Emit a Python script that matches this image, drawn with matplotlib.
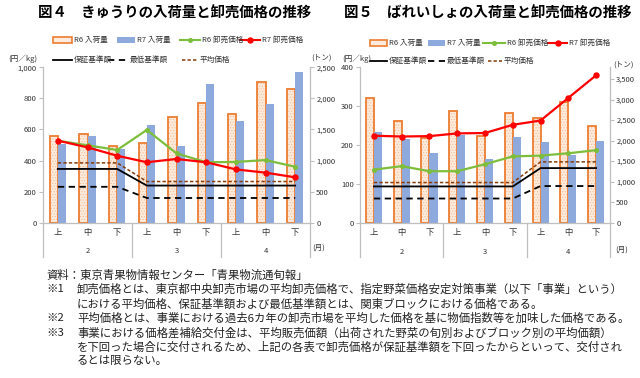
import matplotlib
matplotlib.use('Agg')
import matplotlib.pyplot as plt
import matplotlib.transforms as mtransforms
from matplotlib.lines import Line2D
from matplotlib.patches import Rectangle
import numpy as np

plt.rcParams['font.family'] = ['Noto Sans CJK JP', 'DejaVu Sans']
plt.rcParams['hatch.linewidth'] = 0.5

# ---------------- data ----------------
months = ['2', '3', '4']
periods = ['上', '中', '下']

# Fig.4 cucumber
cu_r6_vol = [1395, 1430, 1235, 1280, 1705, 1930, 1745, 2265, 2150]
cu_r7_vol = [1265, 1400, 1180, 1565, 1235, 2235, 1635, 1915, 2430]
cu_r6_price = [528, 498, 468, 597, 446, 389, 391, 403, 360]
cu_r7_price = [528, 485, 431, 389, 410, 389, 343, 322, 292]
cu_guar = [346, 346, 346, 239, 239, 239, 239, 239, 239]
cu_min = [231, 231, 231, 159, 159, 159, 159, 159, 159]
cu_avg = [385, 385, 385, 265, 265, 265, 265, 265, 265]

# Fig.5 potato
po_r6_vol = [3040, 2477, 2056, 2728, 2119, 2665, 2543, 2930, 2360]
po_r7_vol = [2209, 2039, 1705, 2129, 1559, 2080, 1958, 1649, 1980]
po_r6_price = [136, 145, 132, 132, 150, 170, 172, 178, 186]
po_r7_price = [223, 221, 222, 229, 230, 251, 262, 320, 378]
po_guar = [93, 93, 93, 93, 93, 93, 140, 140, 140]
po_min = [62, 62, 62, 62, 62, 62, 94, 94, 94]
po_avg = [103, 103, 103, 103, 103, 103, 156, 156, 156]

title4 = '図４　きゅうりの入荷量と卸売価格の推移'
title5 = '図５　ばれいしょの入荷量と卸売価格の推移'
legend_labels = ['R6 入荷量', 'R7 入荷量', 'R6 卸売価格', 'R7 卸売価格',
                 '保証基準額', '最低基準額', '平均価格']
notes = [
    ('資料：東京青果物情報センター「青果物流通旬報」', None),
    ('※1', '卸売価格とは、東京都中央卸売市場の平均卸売価格で、指定野菜価格安定対策事業（以下「事業」という）'),
    (None, 'における平均価格、保証基準額および最低基準額とは、関東ブロックにおける価格である。'),
    ('※2', '平均価格とは、事業における過去6カ年の卸売市場を平均した価格を基に物価指数等を加味した価格である。'),
    ('※3', '事業における価格差補給交付金は、平均販売価額（出荷された野菜の旬別およびブロック別の平均価額）'),
    (None, 'を下回った場合に交付されるため、上記の各表で卸売価格が保証基準額を下回ったからといって、交付され'),
    (None, 'るとは限らない。'),
]

# ---------------- style ----------------
W, H = 640, 378
ORANGE = '#ED7D31'
PEACH = '#FDEBDD'
DOTS = '#F6BE98'
BLUE = '#8EA9DB'
GREEN = '#7DBE3C'
RED = '#FF0000'
BROWN = '#843C0C'
AXC = '#BFBFBF'
TXT = '#333333'

fig = plt.figure(figsize=(6.4, 3.78), dpi=100)


def fx(px):
    return px / W


def fy(py):
    return 1 - py / H


def draw_chart(x0, x1, y0, y1, r6v, r7v, r6p, r7p, guar, mini, avg,
               pmax, pticks, vmax, vticks, bw):
    ax = fig.add_axes([fx(x0), fy(y1), (x1 - x0) / W, (y1 - y0) / H])
    ax2 = ax.twinx()
    x = np.arange(len(r6v))
    ax2.bar(x - bw / 2, r6v, bw, facecolor=PEACH, edgecolor=DOTS,
            hatch='......', linewidth=0)
    ax2.bar(x - bw / 2, r6v, bw, fill=False, edgecolor=ORANGE, linewidth=1.3)
    ax2.bar(x + bw / 2, r7v, bw, color=BLUE, linewidth=0)
    ax.set_zorder(ax2.get_zorder() + 1)
    ax.patch.set_visible(False)

    ax.plot(x, avg, color=BROWN, lw=1.1, ls=(0, (2.2, 1.4)))
    ax.plot(x, guar, color='black', lw=1.3)
    ax.plot(x, mini, color='black', lw=1.3, ls=(0, (3.5, 2.5)))
    ax.plot(x, r6p, color=GREEN, lw=1.6, marker='o', ms=2.6)
    ax.plot(x, r7p, color=RED, lw=1.6, marker='o', ms=3.6)

    ax.set_xlim(-0.5, len(r6v) - 0.5)
    ax.set_ylim(0, pmax)
    ax2.set_ylim(0, vmax)
    ax.set_yticks(pticks)
    ax.set_yticklabels([f'{v:,}' for v in pticks])
    ax2.set_yticks(vticks)
    ax2.set_yticklabels([f'{v:,}' for v in vticks])

    for a in (ax, ax2):
        for s in a.spines.values():
            s.set_color(AXC)
            s.set_linewidth(0.9)
        a.spines['top'].set_visible(False)
    ax.spines['right'].set_visible(False)
    ax2.spines['left'].set_visible(False)
    ax2.spines['bottom'].set_visible(False)
    ax.tick_params(axis='y', direction='out', length=3, color=AXC,
                   labelsize=5.5, labelcolor=TXT, pad=1.5)
    ax2.tick_params(axis='y', direction='out', length=3, color=AXC,
                    labelsize=5.5, labelcolor=TXT, pad=1.5)
    ax.set_xticks(x)
    ax.set_xticklabels(periods * len(months))
    ax.tick_params(axis='x', length=0, labelsize=6, labelcolor=TXT, pad=4)

    trans = mtransforms.blended_transform_factory(ax.transData, ax.transAxes)
    for i, m in enumerate(months):
        ax.text(i * 3 + 1, -0.185, m, transform=trans, ha='center',
                va='center', fontsize=5.5, color=TXT)
    for b in np.arange(-0.5, len(r6v), 3):
        ax.plot([b, b], [0, -0.22], transform=trans, color=AXC, lw=0.9,
                clip_on=False)
    return ax, ax2


def legend(cols, y1, y2):
    (a, b, c, d), (e, f, g) = cols
    h = 5
    for (xs, xe), kind, lab in zip([a, b, c, d],
                                   ['r6', 'r7', 'g', 'r'], legend_labels[:4]):
        if kind == 'r6':
            fig.add_artist(Rectangle((fx(xs), fy(y1 + h / 2)), (xe - xs) / W, h / H,
                                     transform=fig.transFigure, facecolor=PEACH,
                                     edgecolor=ORANGE, linewidth=1.2))
        elif kind == 'r7':
            fig.add_artist(Rectangle((fx(xs), fy(y1 + h / 2)), (xe - xs) / W, h / H,
                                     transform=fig.transFigure, facecolor=BLUE,
                                     linewidth=0))
        else:
            col = GREEN if kind == 'g' else RED
            ms = 2.6 if kind == 'g' else 3.6
            fig.add_artist(Line2D([fx(xs), fx(xe)], [fy(y1), fy(y1)],
                                  transform=fig.transFigure, color=col, lw=1.5))
            fig.add_artist(Line2D([fx((xs + xe) / 2)], [fy(y1)], marker='o', ms=ms,
                                  transform=fig.transFigure, color=col, lw=0))
        fig.text(fx(xe + 2), fy(y1), lab, fontsize=5.5, va='center',
                 ha='left', color=TXT)
    styles = [dict(color='black', lw=1.3),
              dict(color='black', lw=1.3, ls=(0, (3.5, 2.5))),
              dict(color=BROWN, lw=1.1, ls=(0, (2.2, 1.4)))]
    for (xs, xe), st, lab in zip([e, f, g], styles, legend_labels[4:]):
        fig.add_artist(Line2D([fx(xs), fx(xe)], [fy(y2), fy(y2)],
                              transform=fig.transFigure, **st))
        fig.text(fx(xe + 2), fy(y2), lab, fontsize=5.5, va='center',
                 ha='left', color=TXT)


# ---------------- Fig.4 ----------------
draw_chart(43, 310, 67.3, 222.7, cu_r6_vol, cu_r7_vol, cu_r6_price,
           cu_r7_price, cu_guar, cu_min, cu_avg,
           1000, [0, 200, 400, 600, 800, 1000],
           2500, [0, 500, 1000, 1500, 2000, 2500], 0.28)
fig.text(fx(174.5), fy(14), title4, fontsize=10.4, fontweight='bold',
         ha='center', va='center', color='black')
legend((((53, 72), (117, 135), (180, 200), (240, 260)),
        ((53, 72), (108, 128), (182, 198))), 40, 60)
fig.text(fx(23), fy(59), '(円／kg)', fontsize=5.5, ha='center', va='center', color=TXT)
fig.text(fx(322), fy(58), '(トン)', fontsize=5.5, ha='center', va='center', color=TXT)
fig.text(fx(319), fy(248), '(月)', fontsize=5.5, ha='center', va='center', color=TXT)

# ---------------- Fig.5 ----------------
draw_chart(360, 610, 66.7, 222.7, po_r6_vol, po_r7_vol, po_r6_price,
           po_r7_price, po_guar, po_min, po_avg,
           400, [0, 100, 200, 300, 400],
           3800, [0, 500, 1000, 1500, 2000, 2500, 3000, 3500], 0.29)
fig.text(fx(487.5), fy(14), title5, fontsize=10.4, fontweight='bold',
         ha='center', va='center', color='black')
legend((((370, 387), (428, 445), (483, 505), (548, 567)),
        ((370, 387), (428, 445), (488, 502))), 43, 61)
fig.text(fx(357), fy(59), '(円／kg)', fontsize=5.5, ha='center', va='center', color=TXT)
fig.text(fx(624), fy(65), '(トン)', fontsize=5.5, ha='center', va='center', color=TXT)
fig.text(fx(622), fy(250), '(月)', fontsize=5.5, ha='center', va='center', color=TXT)

# ---------------- notes ----------------
y = 275
for mark, body in notes:
    if mark is not None:
        fig.text(fx(46), fy(y), mark, fontsize=8.2, ha='left', va='center',
                 color='#222222')
    if body is not None:
        fig.text(fx(77), fy(y), body, fontsize=8.2, ha='left', va='center',
                 color='#222222')
    y += 14.4

fig.savefig('out.png', dpi=100)
